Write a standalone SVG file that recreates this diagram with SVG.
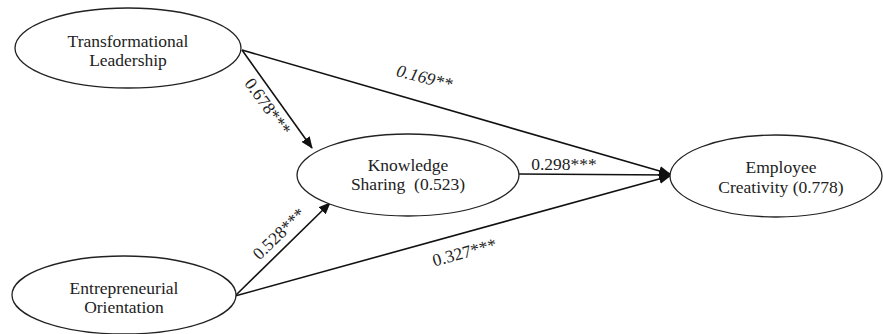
<svg xmlns="http://www.w3.org/2000/svg" width="883" height="334" viewBox="0 0 883 334">
<style>
.node ellipse{fill:#fff;stroke:#222;stroke-width:1.3}
.node text{fill:#222;text-anchor:middle}
.conn line{stroke:#111;stroke-width:1.6}
.lbl{fill:#222;text-anchor:middle}
.ff{font-family:'Liberation Serif','Times New Roman',Tinos,Times,'DejaVu Serif','Noto Serif',serif;font-size:17.5px}
</style>
<defs>
<marker id="ah" markerWidth="12" markerHeight="10" refX="11" refY="5" orient="auto" markerUnits="userSpaceOnUse">
<path d="M0,0 L12,5 L0,10 Z" fill="#111"/>
</marker>
</defs>
<rect width="883" height="334" fill="#fff"/>
<g class="ff">
<g class="conn">
<line x1="242" y1="50" x2="670" y2="174" marker-end="url(#ah)"/>
<line x1="242" y1="50" x2="312" y2="148" marker-end="url(#ah)"/>
<line x1="519" y1="174" x2="670" y2="175" marker-end="url(#ah)"/>
<line x1="235" y1="296" x2="330" y2="203" marker-end="url(#ah)"/>
<line x1="235" y1="296" x2="670" y2="176" marker-end="url(#ah)"/>
<text class="lbl" font-style="italic" transform="translate(423,83) rotate(15)">0.169**</text>
<text class="lbl" transform="translate(263,110) rotate(54)">0.678***</text>
<text class="lbl" x="564" y="170">0.298***</text>
<text class="lbl" transform="translate(283,238) rotate(-44)">0.528***</text>
<text class="lbl" transform="translate(466,258) rotate(-15)">0.327***</text>
</g>
<g id="tl" class="node">
<ellipse cx="128" cy="48" rx="113" ry="40"/>
<text x="128" y="47">Transformational</text>
<text x="128" y="66">Leadership</text>
</g>
<g id="ks" class="node">
<ellipse cx="408" cy="175" rx="111" ry="41"/>
<text x="408" y="171">Knowledge</text>
<text x="408" y="190" xml:space="preserve">Sharing  (0.523)</text>
</g>
<g id="ec" class="node">
<ellipse cx="776" cy="176" rx="106" ry="41"/>
<text x="781" y="173">Employee</text>
<text x="781" y="193">Creativity (0.778)</text>
</g>
<g id="eo" class="node">
<ellipse cx="124" cy="295" rx="112" ry="39"/>
<text x="124" y="294">Entrepreneurial</text>
<text x="124" y="313">Orientation</text>
</g>
</g>
</svg>
